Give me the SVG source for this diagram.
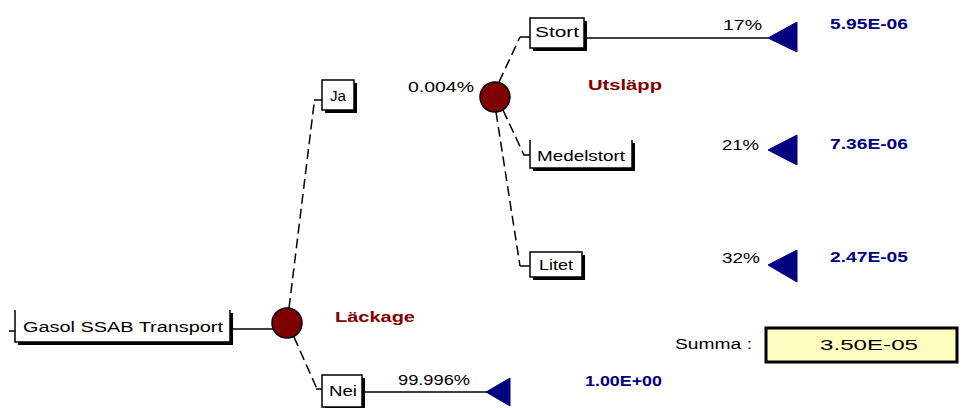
<svg xmlns="http://www.w3.org/2000/svg" width="962" height="408" viewBox="0 0 962 408">
  <defs>
    <style>
      .box { fill: #ffffff; stroke: #000000; stroke-width: 1.5; }
      .shadow { fill: #000000; }
      .lbl { font-family: "Liberation Sans", Arial, sans-serif; font-size: 14px; fill: #000000; }
      .pct { font-family: "Liberation Sans", Arial, sans-serif; font-size: 14px; fill: #000000; }
      .val { font-family: "Liberation Sans", Arial, sans-serif; font-size: 14px; font-weight: bold; fill: #000080; }
      .evt { font-family: "Liberation Sans", Arial, sans-serif; font-size: 15px; font-weight: bold; fill: #800000; }
      .chance { fill: #800000; stroke: #000000; stroke-width: 1.5; }
      .term { fill: #000080; stroke: #000080; stroke-width: 1; }
      .solid { stroke: #000000; stroke-width: 1.5; fill: none; }
      .dash { stroke: #000000; stroke-width: 1.5; fill: none; stroke-dasharray: 10 5; }
    </style>
  </defs>

  <rect width="962" height="408" fill="#ffffff"/>

  <!-- connectors -->
  <g id="connectors">
    <!-- root stub and link to first chance node -->
    <line class="solid" x1="9" y1="331" x2="15" y2="331"/>
    <line class="solid" x1="233" y1="329" x2="273" y2="329"/>
    <!-- Läckage branches -->
    <line class="dash" x1="289" y1="308" x2="314" y2="104"/>
    <line class="solid" x1="314" y1="100" x2="322" y2="100"/>
    <line class="dash" x1="294" y1="337" x2="317" y2="389"/>
    <line class="solid" x1="316" y1="389" x2="322" y2="389"/>
    <line class="solid" x1="365" y1="392" x2="487" y2="392"/>
    <!-- Utsläpp branches -->
    <line class="dash" x1="499" y1="82" x2="520" y2="37"/>
    <line class="solid" x1="520" y1="37" x2="530" y2="37"/>
    <line class="solid" x1="587" y1="38" x2="768" y2="38"/>
    <line class="dash" x1="503" y1="110" x2="524" y2="155"/>
    <line class="solid" x1="523" y1="155" x2="530" y2="155"/>
    <line class="dash" x1="496" y1="112" x2="520" y2="266"/>
    <line class="solid" x1="520" y1="266" x2="530" y2="266"/>
  </g>

  <!-- root decision -->
  <g id="root">
    <rect class="shadow" x="18" y="313" width="215" height="32"/>
    <rect x="15" y="310" width="215" height="32" fill="#ffffff"/>
    <path class="box" d="M15,310 V342 H230 V310" fill="none"/>
    <text class="lbl" x="23" y="332" textLength="200" lengthAdjust="spacingAndGlyphs">Gasol  SSAB Transport</text>
  </g>

  <!-- chance node: Läckage -->
  <g id="leak">
    <circle class="chance" cx="287" cy="323" r="15"/>
    <text class="evt" x="335" y="322" textLength="80" lengthAdjust="spacingAndGlyphs">Läckage</text>
  </g>

  <g id="ja">
    <rect class="shadow" x="325" y="83" width="32" height="30"/>
    <rect class="box" x="322" y="80" width="32" height="30"/>
    <text class="lbl" x="330" y="101" textLength="16" lengthAdjust="spacingAndGlyphs">Ja</text>
  </g>

  <g id="nei">
    <rect class="shadow" x="325" y="378" width="40" height="32"/>
    <rect class="box" x="322" y="375" width="40" height="32"/>
    <text class="lbl" x="329" y="396" textLength="28" lengthAdjust="spacingAndGlyphs">Nei</text>
  </g>

  <!-- chance node: Utsläpp -->
  <g id="release">
    <circle class="chance" cx="495" cy="97" r="15"/>
    <text class="pct" x="408" y="92" textLength="66" lengthAdjust="spacingAndGlyphs">0.004%</text>
    <text class="evt" x="588" y="90" textLength="74" lengthAdjust="spacingAndGlyphs">Utsläpp</text>
  </g>

  <g id="stort">
    <rect class="shadow" x="533" y="21" width="54" height="30"/>
    <rect class="box" x="530" y="18" width="54" height="30"/>
    <text class="lbl" x="535" y="37" textLength="44" lengthAdjust="spacingAndGlyphs">Stort</text>
  </g>

  <g id="medelstort">
    <rect class="shadow" x="533" y="143" width="102" height="28"/>
    <rect x="530" y="140" width="102" height="28" fill="#ffffff"/>
    <path class="box" d="M530,140 V168 H632 V140" fill="none"/>
    <text class="lbl" x="537" y="161" textLength="88" lengthAdjust="spacingAndGlyphs">Medelstort</text>
  </g>

  <g id="litet">
    <rect class="shadow" x="533" y="255" width="52" height="25"/>
    <rect class="box" x="530" y="252" width="52" height="25"/>
    <text class="lbl" x="539" y="270" textLength="34" lengthAdjust="spacingAndGlyphs">Litet</text>
  </g>

  <!-- terminal outcomes -->
  <g id="end-stort">
    <polygon class="term" points="768,38 797,22 797,52"/>
    <text class="pct" x="723" y="30" textLength="39" lengthAdjust="spacingAndGlyphs">17%</text>
    <text class="val" x="830" y="29" textLength="78" lengthAdjust="spacingAndGlyphs">5.95E-06</text>
  </g>

  <g id="end-medelstort">
    <polygon class="term" points="768,150 797,135 797,165"/>
    <text class="pct" x="722" y="150" textLength="37" lengthAdjust="spacingAndGlyphs">21%</text>
    <text class="val" x="830" y="149" textLength="78" lengthAdjust="spacingAndGlyphs">7.36E-06</text>
  </g>

  <g id="end-litet">
    <polygon class="term" points="768,265 797,250 797,282"/>
    <text class="pct" x="722" y="263" textLength="38" lengthAdjust="spacingAndGlyphs">32%</text>
    <text class="val" x="830" y="262" textLength="78" lengthAdjust="spacingAndGlyphs">2.47E-05</text>
  </g>

  <g id="end-nei">
    <polygon class="term" points="486,392 510,378 510,406"/>
    <text class="pct" x="398" y="385" textLength="72" lengthAdjust="spacingAndGlyphs">99.996%</text>
    <text class="val" x="585" y="386" textLength="77" lengthAdjust="spacingAndGlyphs">1.00E+00</text>
  </g>

  <!-- total -->
  <g id="sum">
    <text class="lbl" x="675" y="349" textLength="77" lengthAdjust="spacingAndGlyphs">Summa :</text>
    <rect x="766" y="328" width="191" height="34" fill="#ffffc0" stroke="#000000" stroke-width="3"/>
    <text class="lbl" x="820" y="350" textLength="98" lengthAdjust="spacingAndGlyphs">3.50E-05</text>
  </g>
</svg>
